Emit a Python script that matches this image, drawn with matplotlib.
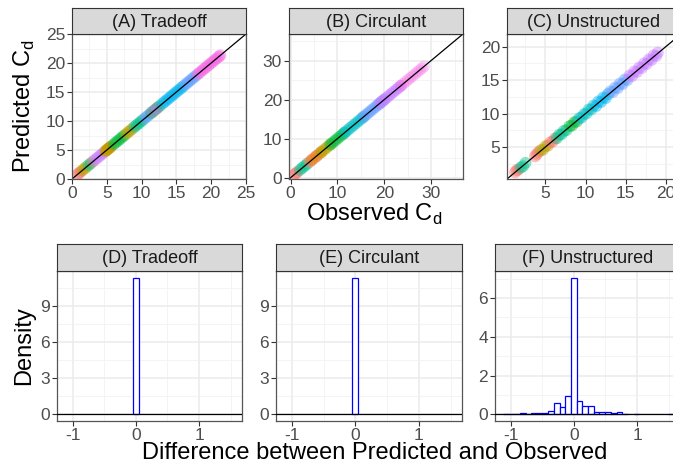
import matplotlib
matplotlib.use('Agg')
import matplotlib.pyplot as plt
from matplotlib.ticker import MultipleLocator

plt.rcParams['font.family'] = ['Liberation Sans', 'DejaVu Sans']
plt.rcParams['mathtext.fontset'] = 'custom'
plt.rcParams['mathtext.rm'] = 'Liberation Sans'
plt.rcParams['axes.unicode_minus'] = False

# ggplot-like hue colours
hue = {'red': '#F8766D', 'orange': '#DE8C00', 'olive': '#B79F00', 'green': '#00BA38',
       'teal': '#00C08B', 'cyan': '#00BFC4', 'blue': '#00B4F0', 'purple': '#619CFF',
       'violet': '#C77CFF', 'magenta': '#F564E3'}

# ---------------- scatter data (observed C_d per colour group) ----------------
obs_A = [[0.8, 1.0, 1.2], [1.5, 1.8, 2.1], [2.4, 2.7], [3.0],
         [3.3, 3.6, 3.9, 4.2, 4.5], [4.8, 5.0, 5.2, 5.4, 5.6], [4.9, 5.2, 5.5],
         [6.0, 6.3, 6.6, 6.9, 7.2, 7.5], [7.8, 8.1, 8.4, 8.7],
         [9.0, 9.3, 9.6, 9.9, 10.2], [10.5, 10.8, 11.1], [11.4, 11.7, 12.0, 12.3, 12.6],
         [11.6, 12.2], [13.0, 13.3, 13.6, 13.9, 14.2, 14.5, 14.8, 15.1, 15.4, 15.7, 16.0],
         [16.3, 16.6, 16.9, 17.2, 17.5, 17.8],
         [18.1, 18.4, 18.7, 19.0, 19.3, 19.6, 19.9, 20.2, 20.5, 20.8, 21.1, 21.3]]
col_A = ['red', 'olive', 'teal', 'red', 'violet', 'orange', 'olive', 'green', 'olive',
         'teal', 'purple', 'green', 'violet', 'blue', 'purple', 'magenta']

obs_B = [[0.8, 1.1, 1.4], [2.0, 2.5, 3.0, 3.5], [4.0, 4.5, 5.0, 5.5, 6.0], [4.5, 5.5, 6.5],
         [6.5, 7.0, 7.5, 8.0, 8.5], [8.5, 9.0, 9.5, 10.0, 10.5, 11.0, 11.5],
         [11.5, 12.0, 12.5, 13.0, 13.5, 14.0, 14.5, 15.0, 15.5],
         [15.5, 16.0, 16.5, 17.0, 17.5, 18.0, 18.5, 19.0, 19.5, 20.0],
         [19.0, 19.5, 20.0, 20.5, 21.0, 21.5, 22.0, 22.5, 23.0, 23.5],
         [23.5, 24.0, 24.5, 25.0, 25.5, 26.0, 26.5, 27.0, 27.5, 28.0, 28.5]]
col_B = ['red', 'teal', 'red', 'orange', 'olive', 'green', 'cyan', 'purple', 'violet', 'magenta']

obs_C = [[1.2, 1.4, 1.6], [1.9, 2.2, 2.5], [3.7, 3.9, 4.1], [4.4, 4.7, 5.0, 5.3],
         [5.6, 5.9, 6.2], [6.4, 6.7, 7.0, 7.3, 7.6], [8.0, 8.3, 8.6, 8.9],
         [9.2, 9.5, 9.8, 10.1, 10.4, 10.7, 11.0], [11.3, 11.6, 11.9, 12.2, 12.5, 12.8],
         [13.1, 13.4, 13.7, 14.0, 14.3, 14.6, 14.9, 15.2],
         [15.5, 15.8, 16.1, 16.4, 16.7, 17.0, 17.3, 17.6, 17.9, 18.2, 18.5, 18.8, 19.0]]
pred_C = [[1.2, 1.5, 1.6], [1.9, 2.1, 2.6], [3.6, 3.9, 4.2], [4.5, 4.6, 5.1, 5.2],
          [5.7, 5.8, 6.3], [6.3, 6.8, 6.9, 7.4, 7.5], [8.1, 8.2, 8.7, 8.8],
          [9.3, 9.4, 9.9, 10.0, 10.6, 10.6, 11.2], [11.1, 11.8, 11.7, 12.4, 12.3, 12.9],
          [13.3, 13.2, 13.9, 13.8, 14.5, 14.4, 15.1, 15.0],
          [15.7, 15.6, 16.3, 16.2, 16.9, 16.8, 17.5, 17.4, 18.1, 18.0, 18.7, 18.6, 19.1]]
col_C = ['red', 'teal', 'red', 'olive', 'red', 'teal', 'green', 'cyan', 'blue', 'purple', 'violet']

# ---------------- histogram data (density of predicted - observed) ----------------
bin_w = 0.09
bins_D = [0.0]
dens_D = [11.33]
bins_E = [0.0]
dens_E = [11.33]
bins_F = [-1.08, -0.99, -0.90, -0.81, -0.72, -0.63, -0.54, -0.45, -0.36, -0.27, -0.18, -0.09,
          0.0, 0.09, 0.18, 0.27, 0.36, 0.45, 0.54, 0.63, 0.72, 0.81, 0.99, 1.53]
dens_F = [0.03, 0.02, 0.02, 0.04, 0.02, 0.05, 0.06, 0.06, 0.17, 0.60, 0.38, 0.96,
          7.05, 0.70, 0.40, 0.40, 0.13, 0.12, 0.12, 0.07, 0.10, 0.02, 0.03, 0.03]

W, H = 673, 467
fig = plt.figure(figsize=(W / 100, H / 100), dpi=100)


def box(l, t, r, b):
    return [l / W, 1 - b / H, (r - l) / W, (b - t) / H]


def panel(l, t, r, b, strip_top, title):
    ax = fig.add_axes(box(l, t, r, b))
    sx = fig.add_axes(box(l, strip_top, r, t))
    sx.set_facecolor('#D9D9D9')
    sx.set_xticks([])
    sx.set_yticks([])
    for s in sx.spines.values():
        s.set_color('#333333')
        s.set_linewidth(0.8)
    sx.text(0.5, 0.46, title, ha='center', va='center', fontsize=13, color='#1A1A1A',
            transform=sx.transAxes)
    ax.set_axisbelow(True)
    ax.grid(True, which='major', color='#EBEBEB', lw=1.1)
    ax.grid(True, which='minor', color='#F2F2F2', lw=0.6)
    for s in ax.spines.values():
        s.set_color('#555555')
        s.set_linewidth(0.9)
    ax.tick_params(which='major', length=3.5, width=0.8, color='#333333',
                   labelsize=12.5, labelcolor='#4D4D4D', pad=1.5)
    ax.tick_params(which='minor', length=0)
    return ax


def scatter_panel(ax, obs, pred, cols, lim, step):
    for o, p, c in zip(obs, pred, cols):
        a = 0.25 if c == 'magenta' and lim[1] > 30 else 0.45
        ax.scatter(o, p, s=75, color=hue[c], alpha=a, edgecolors='none')
    ax.axline((0, 0), slope=1, color='black', lw=0.9)
    ax.set_xlim(lim)
    ax.set_ylim(lim)
    ax.xaxis.set_major_locator(MultipleLocator(step))
    ax.yaxis.set_major_locator(MultipleLocator(step))
    ax.xaxis.set_minor_locator(MultipleLocator(step / 2))
    ax.yaxis.set_minor_locator(MultipleLocator(step / 2))


def hist_panel(ax, centers, dens, ylim, ystep):
    ax.bar(centers, dens, width=bin_w, facecolor='white', edgecolor='#0000FF', lw=0.9)
    ax.axhline(0, color='black', lw=0.9, zorder=5)
    ax.set_xlim(-1.25, 1.68)
    ax.set_ylim(ylim)
    ax.xaxis.set_major_locator(MultipleLocator(1))
    ax.xaxis.set_minor_locator(MultipleLocator(0.5))
    ax.yaxis.set_major_locator(MultipleLocator(ystep))
    ax.yaxis.set_minor_locator(MultipleLocator(ystep / 2))


axA = panel(72, 34, 246, 179, 8, '(A) Tradeoff')
scatter_panel(axA, obs_A, obs_A, col_A, (0, 25), 5)
axB = panel(289, 34, 463, 179, 8, '(B) Circulant')
scatter_panel(axB, obs_B, obs_B, col_B, (-0.35, 36.8), 10)
axC = panel(507, 34, 681, 179, 8, '(C) Unstructured')
scatter_panel(axC, obs_C, pred_C, col_C, (0.2, 21.9), 5)
axC.set_xticks([5, 10, 15, 20])
axC.set_yticks([5, 10, 15, 20])

axD = panel(57, 271, 242, 421, 244, '(D) Tradeoff')
hist_panel(axD, bins_D, dens_D, (-0.57, 11.9), 3)
axE = panel(276, 271, 462, 421, 244, '(E) Circulant')
hist_panel(axE, bins_E, dens_E, (-0.57, 11.9), 3)
axF = panel(495, 271, 680, 421, 244, '(F) Unstructured')
hist_panel(axF, bins_F, dens_F, (-0.35, 7.4), 2)

fig.text(24 / W, 1 - 106 / H, r'Predicted C$_\mathrm{d}$', rotation=90, ha='center',
         va='center', fontsize=17)
fig.text(374 / W, 1 - 214 / H, r'Observed C$_\mathrm{d}$', ha='center', va='center',
         fontsize=17)
fig.text(24 / W, 1 - 346 / H, 'Density', rotation=90, ha='center', va='center', fontsize=17)
fig.text(375 / W, 1 - 453 / H, 'Difference between Predicted and Observed', ha='center',
         va='center', fontsize=17)

fig.savefig('out.png', dpi=100)
